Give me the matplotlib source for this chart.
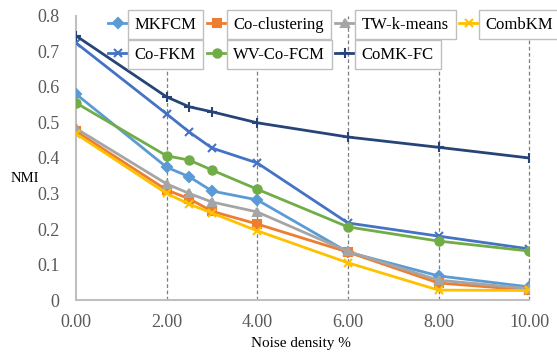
import matplotlib
matplotlib.use("Agg")
import matplotlib.pyplot as plt

noise = [0, 2, 2.5, 3, 4, 6, 8, 10]

mkfcm = [0.580, 0.374, 0.347, 0.307, 0.282, 0.135, 0.068, 0.037]
co_clustering = [0.475, 0.310, 0.285, 0.250, 0.214, 0.135, 0.048, 0.028]
tw_kmeans = [0.483, 0.327, 0.300, 0.276, 0.248, 0.137, 0.056, 0.032]
combkm = [0.468, 0.300, 0.270, 0.245, 0.195, 0.105, 0.028, 0.027]
co_fkm = [0.724, 0.524, 0.473, 0.428, 0.386, 0.217, 0.180, 0.144]
wv_co_fcm = [0.555, 0.406, 0.394, 0.366, 0.312, 0.206, 0.166, 0.138]
comk_fc = [0.744, 0.572, 0.544, 0.530, 0.499, 0.459, 0.430, 0.400]

yticks = [0, 0.1, 0.2, 0.3, 0.4, 0.5, 0.6, 0.7, 0.8]
ytick_labels = ["0", "0.1", "0.2", "0.3", "0.4", "0.5", "0.6", "0.7", "0.8"]
xticks = [0, 2, 4, 6, 8, 10]
xtick_labels = ["0.00", "2.00", "4.00", "6.00", "8.00", "10.00"]

# order chosen so the 4-column legend reads row by row like the original
series = [
    ("MKFCM", mkfcm, "#5b9bd5", "D", 5),
    ("Co-FKM", co_fkm, "#4472c4", "x", 6),
    ("Co-clustering", co_clustering, "#ed7d31", "s", 6),
    ("WV-Co-FCM", wv_co_fcm, "#70ad47", "o", 6),
    ("TW-k-means", tw_kmeans, "#a5a5a5", "^", 6),
    ("CoMK-FC", comk_fc, "#264478", "+", 7),
    ("CombKM", combkm, "#ffc000", "x", 6),
]

plt.rcParams['font.family'] = ['Liberation Serif', 'DejaVu Serif']

fig = plt.figure(figsize=(5.57, 3.53), dpi=100)
ax = fig.add_axes([0.1364, 0.150, 0.8136, 0.805])

for x in xticks[1:]:
    ax.axvline(x, color="#7f7f7f", linestyle=(0, (3, 2)), linewidth=0.9,
               zorder=1, clip_on=False)

for name, vals, col, mk, ms in series:
    ax.plot(noise, vals, color=col, marker=mk, markersize=ms, linewidth=2,
            markeredgewidth=1.5, label=name, zorder=3)

ax.set_xlim(0, 10)
ax.set_ylim(0, 0.8)
ax.set_xticks(xticks)
ax.set_xticklabels(xtick_labels)
ax.set_yticks(yticks)
ax.set_yticklabels(ytick_labels)
ax.tick_params(length=0, labelsize=13, colors="#595959")
ax.tick_params(axis="x", pad=10)
ax.tick_params(axis="y", pad=12)

for side in ["top", "right"]:
    ax.spines[side].set_visible(False)
for side in ["left", "bottom"]:
    ax.spines[side].set_color("#bfbfbf")
    ax.spines[side].set_linewidth(1.5)

fig.text(0.045, 0.495, "NMI", fontsize=10.5, ha="center", va="center")
fig.text(0.54, 0.028, "Noise density %", fontsize=11, ha="center", va="center")

leg = fig.legend(loc="upper left", bbox_to_anchor=(0.194, 0.953), ncol=4,
                 frameon=False, fontsize=12, handlelength=1.2,
                 columnspacing=0.6, labelspacing=0.85, handletextpad=0.4,
                 borderpad=0, borderaxespad=0)
for t in leg.get_texts():
    t.set_bbox(dict(facecolor="white", edgecolor="#bfbfbf", linewidth=1,
                    boxstyle="square,pad=0.4"))

fig.savefig("out.png", dpi=100)
